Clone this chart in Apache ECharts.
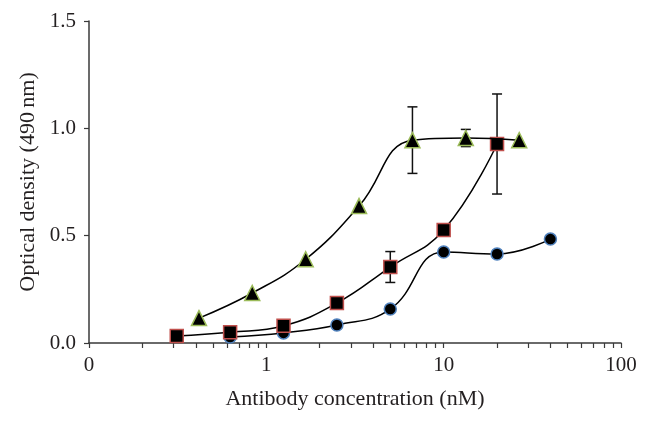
<!DOCTYPE html>
<html>
<head>
<meta charset="utf-8">
<script src="https://cdn.jsdelivr.net/npm/echarts@6/dist/echarts.min.js"></script>
<style>
html,body{margin:0;padding:0;background:#fff;}
#chart{width:648px;height:426px;}
</style>
</head>
<body>
<div id="chart"></div>
<script>
// ---- data ----
var circleX = [0.625, 1.25, 2.5, 5, 10, 20, 40];
var circleY = [0.028, 0.047, 0.084, 0.158, 0.424, 0.415, 0.484];

var squareX = [0.3125, 0.625, 1.25, 2.5, 5, 10, 20];
var squareY = [0.033, 0.05, 0.08, 0.186, 0.354, 0.526, 0.927];
var squareErr = [null, null, null, null, 0.072, null, 0.233];

var triX = [0.417, 0.833, 1.667, 3.333, 6.667, 13.33, 26.67];
var triY = [0.116, 0.233, 0.39, 0.638, 0.945, 0.955, 0.945];
var triErr = [null, null, null, null, 0.155, 0.04, null];

var xLabelValues = [0.1, 1, 10, 100];
var xLabelTexts = ['0', '1', '10', '100'];
var xTickValues = [0.1,0.2,0.3,0.4,0.5,0.6,0.7,0.8,0.9,1,2,3,4,5,6,7,8,9,10,20,30,40,50,60,70,80,90,100];
var yTicks = [0, 0.5, 1.0, 1.5];

var xTitle = 'Antibody concentration (nM)';
var yTitle = 'Optical density (490\u2009nm)';

function pairs(xs, ys) {
  return xs.map(function (x, i) { return [x, ys[i]]; });
}
function errData(xs, ys, es) {
  var out = [];
  xs.forEach(function (x, i) {
    if (es[i] != null) out.push([x, ys[i] - es[i], ys[i] + es[i]]);
  });
  return out;
}
var allErr = errData(squareX, squareY, squareErr).concat(errData(triX, triY, triErr));

var FONT = 'Liberation Serif';
var TXT = '#231f20';
var AX = '#3a3a3a';

var chart = echarts.init(document.getElementById('chart'), null, {renderer: 'canvas'});
chart.setOption({
  animation: false,
  backgroundColor: '#ffffff',
  grid: {left: 89, right: 27, top: 21, bottom: 83, containLabel: false},
  xAxis: {
    type: 'log',
    logBase: 10,
    min: 0.1,
    max: 100,
    name: xTitle,
    nameLocation: 'middle',
    nameGap: 45,
    nameTextStyle: {fontFamily: FONT, fontSize: 22, color: TXT},
    axisLine: {show: true, lineStyle: {color: AX, width: 1.5}},
    axisTick: {show: true, inside: false, length: 5, lineStyle: {color: AX, width: 1.2}, customValues: xTickValues},
    minorTick: {show: false},
    splitLine: {show: false},
    axisLabel: {
      customValues: xLabelValues,
      margin: 12,
      fontFamily: FONT, fontSize: 21, color: TXT,
      formatter: function (v) {
        for (var i = 0; i < xLabelValues.length; i++) {
          if (Math.abs(v - xLabelValues[i]) < 1e-6 * xLabelValues[i]) return xLabelTexts[i];
        }
        return '';
      }
    }
  },
  yAxis: {
    type: 'value',
    min: yTicks[0],
    max: yTicks[yTicks.length - 1],
    interval: 0.5,
    name: yTitle,
    nameLocation: 'middle',
    nameGap: 47,
    nameTextStyle: {fontFamily: FONT, fontSize: 22, color: TXT},
    axisLine: {show: true, lineStyle: {color: AX, width: 1.5}},
    axisTick: {show: true, inside: false, length: 5, lineStyle: {color: AX, width: 1.2}},
    splitLine: {show: false},
    axisLabel: {
      margin: 13,
      fontFamily: FONT, fontSize: 21, color: TXT,
      formatter: function (v) { return v.toFixed(1); }
    }
  },
  series: [
    {
      type: 'custom',
      z: 1,
      data: allErr,
      renderItem: function (params, api) {
        var x = api.value(0);
        var lo = api.coord([x, api.value(1)]);
        var hi = api.coord([x, api.value(2)]);
        var hw = 5;
        var st = {stroke: '#111', lineWidth: 1.5};
        return {
          type: 'group',
          children: [
            {type: 'line', shape: {x1: lo[0], y1: lo[1], x2: hi[0], y2: hi[1]}, style: st},
            {type: 'line', shape: {x1: lo[0] - hw, y1: lo[1], x2: lo[0] + hw, y2: lo[1]}, style: st},
            {type: 'line', shape: {x1: hi[0] - hw, y1: hi[1], x2: hi[0] + hw, y2: hi[1]}, style: st}
          ]
        };
      }
    },
    {
      type: 'line', z: 3, smooth: 0.45,
      data: pairs(circleX, circleY),
      symbol: 'circle', symbolSize: 12,
      lineStyle: {color: '#000', width: 1.5},
      itemStyle: {color: '#000', borderColor: '#4f81bd', borderWidth: 1.5}
    },
    {
      type: 'line', z: 4, smooth: 0.45,
      data: pairs(squareX, squareY),
      symbol: 'rect', symbolSize: 13,
      lineStyle: {color: '#000', width: 1.5},
      itemStyle: {color: '#000', borderColor: '#c0504d', borderWidth: 1.5}
    },
    {
      type: 'line', z: 5, smooth: 0.45,
      data: pairs(triX, triY),
      symbol: 'triangle', symbolSize: 15,
      lineStyle: {color: '#000', width: 1.5},
      itemStyle: {color: '#000', borderColor: '#9bbb59', borderWidth: 1.5}
    }
  ]
});
</script>
</body>
</html>
